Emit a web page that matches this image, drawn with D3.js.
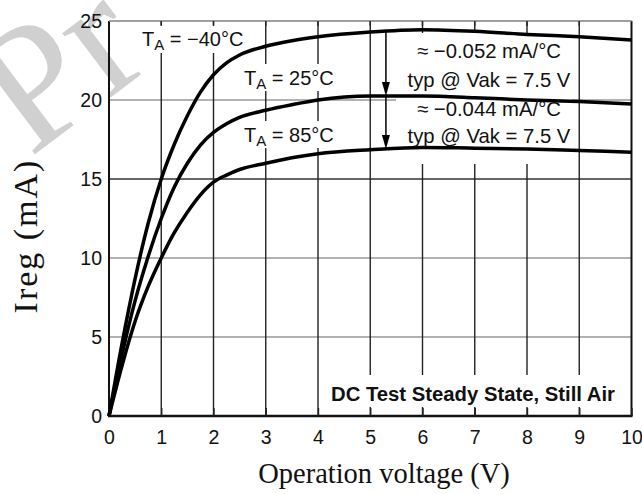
<!DOCTYPE html>
<html>
<head>
<meta charset="utf-8">
<script src="https://cdn.jsdelivr.net/npm/d3@7"></script>
<style>
body { margin: 0; background: #fff; }
</style>
</head>
<body>
<script>
"use strict"

// readings (V, mA)
var voltage   = [0, 0.25, 0.5, 0.75, 1, 1.25, 1.5, 1.75, 2, 2.25, 2.5, 3, 3.5, 4, 5, 6, 7, 8, 9, 10];
var iregMinus40 = [0, 4.6, 8.7, 12.2, 15.0, 17.2, 19.0, 20.5, 21.6, 22.35, 22.85, 23.4, 23.75, 24.0, 24.3, 24.45, 24.35, 24.15, 24.0, 23.8];
var ireg25      = [0, 3.9, 7.3, 10.1, 12.5, 14.5, 16.0, 17.15, 17.95, 18.5, 18.9, 19.35, 19.7, 20.0, 20.25, 20.25, 20.15, 20.0, 19.9, 19.75];
var ireg85      = [0, 3.2, 6.0, 8.2, 10.0, 11.6, 12.9, 14.0, 14.8, 15.25, 15.6, 16.0, 16.35, 16.6, 16.85, 17.0, 16.95, 16.9, 16.8, 16.7];

var xTicks = [0, 1, 2, 3, 4, 5, 6, 7, 8, 9, 10];
var yTicks = [0, 5, 10, 15, 20, 25];

// arrows showing the temperature coefficient at ~5.3 V
var arrowV = 5.3;
var arrowSpans = [[24.35, 20.25], [20.25, 16.9]];
var coefLines = ["\u2248  \u22120.052 mA/\u00B0C", "typ @ Vak = 7.5 V", "\u2248  \u22120.044 mA/\u00B0C", "typ @ Vak = 7.5 V"];

var width = 642, height = 494;
var pLeft = 109, pRight = 631.5, pTop = 21, pBottom = 416;
var sans = "'Liberation Sans', Arial, Helvetica, sans-serif";
var serif = "'Liberation Serif', 'Times New Roman', serif";

var svg = d3.select("body").append("svg")
            .attr("width", width)
            .attr("height", height);

var x = d3.scaleLinear().domain([0, 10]).range([pLeft, pRight]);
var y = d3.scaleLinear().domain([0, 25]).range([pBottom, pTop]);

// watermark
svg.append("text")
   .attr("transform", "translate(30,158) rotate(-37)")
   .attr("font-family", serif)
   .attr("font-size", 175)
   .attr("fill", "#d0d0d0")
   .text("Pr");

// grid
svg.append("g")
   .selectAll("line")
   .data(yTicks.slice(1))
   .enter().append("line")
   .attr("x1", pLeft).attr("x2", pRight)
   .attr("y1", function(d) { return y(d); })
   .attr("y2", function(d) { return y(d); })
   .attr("stroke", function(d) { return d === 15 ? "#333" : "#999"; })
   .attr("stroke-width", 1.6);

svg.append("g")
   .selectAll("line")
   .data(xTicks.slice(1, -1))
   .enter().append("line")
   .attr("x1", function(d) { return x(d); })
   .attr("x2", function(d) { return x(d); })
   .attr("y1", pTop).attr("y2", pBottom)
   .attr("stroke", "#222")
   .attr("stroke-width", 1.4);

// white patches behind the labels (they break the grid)
var patches = [[136, 25, 114, 28], [238, 64, 104, 27], [238, 121, 104, 27], [396, 33, 176, 131], [326, 375, 296, 32]];
svg.append("g")
   .selectAll("rect")
   .data(patches)
   .enter().append("rect")
   .attr("x", function(d) { return d[0]; })
   .attr("y", function(d) { return d[1]; })
   .attr("width", function(d) { return d[2]; })
   .attr("height", function(d) { return d[3]; })
   .attr("fill", "#fff");

// frame
svg.append("line").attr("x1", pLeft).attr("x2", pLeft).attr("y1", pTop).attr("y2", pBottom)
   .attr("stroke", "#111").attr("stroke-width", 2);
svg.append("line").attr("x1", pRight).attr("x2", pRight).attr("y1", pTop).attr("y2", pBottom)
   .attr("stroke", "#111").attr("stroke-width", 2);
svg.append("line").attr("x1", pLeft).attr("x2", pRight).attr("y1", pTop).attr("y2", pTop)
   .attr("stroke", "#999").attr("stroke-width", 1.6);
svg.append("line").attr("x1", pLeft - 1).attr("x2", pRight + 1).attr("y1", pBottom).attr("y2", pBottom)
   .attr("stroke", "#111").attr("stroke-width", 2.6);

// axes (labels only, ticks are the grid)
var xAxis = svg.append("g")
   .attr("transform", "translate(0," + pBottom + ")")
   .call(d3.axisBottom(x).tickValues(xTicks).tickSize(0).tickPadding(14));
var yAxis = svg.append("g")
   .attr("transform", "translate(" + pLeft + ",0)")
   .call(d3.axisLeft(y).tickValues(yTicks).tickSize(0).tickPadding(7));
xAxis.select(".domain").remove();
yAxis.select(".domain").remove();
// short inner ticks that stay visible through the patches
xAxis.selectAll(".tick").append("line")
   .attr("y1", 0).attr("y2", -8)
   .attr("stroke", "#222").attr("stroke-width", 1.4);
svg.append("g")
   .attr("transform", "translate(0," + pTop + ")")
   .selectAll("line")
   .data(xTicks.slice(1, -1))
   .enter().append("line")
   .attr("x1", function(d) { return x(d); })
   .attr("x2", function(d) { return x(d); })
   .attr("y1", 0).attr("y2", 5)
   .attr("stroke", "#222").attr("stroke-width", 1.4);
svg.selectAll(".tick text")
   .attr("font-family", sans)
   .attr("font-size", 19.5)
   .attr("fill", "#111");

// curves
var line = d3.line()
             .x(function(d) { return x(d[0]); })
             .y(function(d) { return y(d[1]); })
             .curve(d3.curveMonotoneX);

[iregMinus40, ireg25, ireg85].forEach(function(series) {
    svg.append("path")
       .attr("d", line(d3.zip(voltage, series)))
       .attr("fill", "none")
       .attr("stroke", "#000")
       .attr("stroke-width", 3.5)
       .attr("stroke-linejoin", "round");
});

// arrows
arrowSpans.forEach(function(s) {
    var y0 = y(s[0]), y1 = y(s[1]), ax = x(arrowV);
    svg.append("line")
       .attr("x1", ax).attr("x2", ax)
       .attr("y1", y0).attr("y2", y1 - 12)
       .attr("stroke", "#000").attr("stroke-width", 1.5);
    svg.append("path")
       .attr("d", "M" + (ax - 4) + "," + (y1 - 14) + "L" + (ax + 4) + "," + (y1 - 14) + "L" + ax + "," + y1 + "Z")
       .attr("fill", "#000");
});

// temperature labels
var tLabels = [["= \u221240\u00B0C", 142, 46], ["= 25\u00B0C", 244, 85], ["= 85\u00B0C", 244, 141.5]];
tLabels.forEach(function(t) {
    var txt = svg.append("text")
       .attr("x", t[1]).attr("y", t[2])
       .attr("font-family", sans)
       .attr("font-size", 20)
       .attr("fill", "#111");
    txt.append("tspan").text("T");
    txt.append("tspan").attr("font-size", 15).attr("dy", 4).text("A");
    txt.append("tspan").attr("dy", -4).text(" " + t[0]);
});

svg.append("g")
   .selectAll("text")
   .data(coefLines)
   .enter().append("text")
   .attr("x", 489)
   .attr("y", function(d, i) { return [58, 87, 116, 143][i]; })
   .attr("text-anchor", "middle")
   .attr("font-family", sans)
   .attr("font-size", 20.3)
   .attr("fill", "#111")
   .text(function(d) { return d; });

svg.append("text")
   .attr("x", 473).attr("y", 401)
   .attr("text-anchor", "middle")
   .attr("font-family", sans)
   .attr("font-weight", "bold")
   .attr("font-size", 20.3)
   .attr("fill", "#111")
   .text("DC Test Steady State, Still Air");

// axis titles
svg.append("text")
   .attr("x", 384).attr("y", 483)
   .attr("text-anchor", "middle")
   .attr("font-family", serif)
   .attr("font-size", 28.5)
   .attr("fill", "#111")
   .text("Operation voltage (V)");

svg.append("text")
   .attr("transform", "translate(37,236) rotate(-90)")
   .attr("text-anchor", "middle")
   .attr("font-family", serif)
   .attr("font-size", 34)
   .attr("letter-spacing", 2)
   .attr("fill", "#111")
   .text("Ireg (mA)");
</script>
</body>
</html>
